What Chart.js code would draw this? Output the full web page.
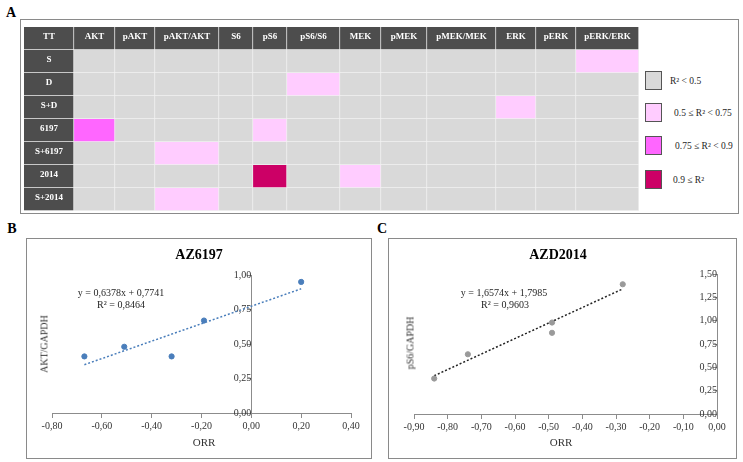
<!DOCTYPE html>
<html>
<head>
<meta charset="utf-8">
<script src="https://cdn.jsdelivr.net/npm/chart.js@4.4.0/dist/chart.umd.min.js"></script>
<style>
  body { margin: 0; background: #fff; }
  #fig { position: relative; width: 743px; height: 462px; overflow: hidden; font-family: "Liberation Serif", serif; color: #333; }
  canvas { position: absolute; }
  .frame { position: absolute; border: 1.5px solid #8a8a8a; box-sizing: border-box; }
  .letter { position: absolute; font-weight: bold; font-size: 14px; color: #000; transform: translate(-50%, -50%); }
  .txt { position: absolute; transform: translate(-50%, -50%); white-space: nowrap; }
  .title { font-weight: bold; font-size: 14px; color: #000; }
  .eq { font-size: 10px; color: #262626; }
  .ytitle { font-size: 10px; color: #333; transform: translate(-50%, -50%) rotate(-90deg); }
  .lg-box { position: absolute; width: 17px; height: 19px; border: 1px solid #555; box-sizing: border-box; }
  .lg-lab { position: absolute; font-size: 9.5px; color: #262626; transform: translateY(-50%); white-space: nowrap; }
</style>
</head>
<body>
<div id="fig">
  <div class="frame" style="left:20px;top:19px;width:719px;height:195px;"></div>
  <div class="frame" style="left:26px;top:238px;width:346px;height:221px;"></div>
  <div class="frame" style="left:388px;top:238px;width:349px;height:221px;"></div>

  <div class="letter" style="left:11px;top:13px;">A</div>
  <div class="letter" style="left:12px;top:229px;">B</div>
  <div class="letter" style="left:382px;top:229px;">C</div>

  <canvas id="heat" width="615" height="184" style="left:24px;top:27px;"></canvas>
  <div id="legend"></div>

  <canvas id="chartB" width="344" height="219" style="left:27px;top:239px;"></canvas>
  <div class="txt title" style="left:199px;top:255px;">AZ6197</div>
  <div class="txt eq" style="left:121px;top:292px;">y = 0,6378x + 0,7741</div>
  <div class="txt eq" style="left:121px;top:304px;">R² = 0,8464</div>
  <div class="txt ytitle" style="left:44px;top:344px;">AKT/GAPDH</div>
  <div class="txt" style="left:204px;top:442px;font-size:11px;">ORR</div>

  <canvas id="chartC" width="347" height="219" style="left:389px;top:239px;"></canvas>
  <div class="txt title" style="left:558px;top:255px;">AZD2014</div>
  <div class="txt eq" style="left:504px;top:292px;">y = 1,6574x + 1,7985</div>
  <div class="txt eq" style="left:505px;top:304px;">R² = 0,9603</div>
  <div class="txt ytitle" style="left:410px;top:343px;">pS6/GAPDH</div>
  <div class="txt" style="left:561px;top:442px;font-size:11px;">ORR</div>
</div>

<script>
// ---- panel A data ----
const rowLabels = ['S', 'D', 'S+D', '6197', 'S+6197', '2014', 'S+2014'];
const colLabels = ['AKT', 'pAKT', 'pAKT/AKT', 'S6', 'pS6', 'pS6/S6', 'MEK', 'pMEK', 'pMEK/MEK', 'ERK', 'pERK', 'pERK/ERK'];
// R² class per cell: 0 = R² < 0.5, 1 = 0.5-0.75, 2 = 0.75-0.9, 3 = >= 0.9
const r2Class = [
  [0, 0, 0, 0, 0, 0, 0, 0, 0, 0, 0, 1], // S
  [0, 0, 0, 0, 0, 1, 0, 0, 0, 0, 0, 0], // D
  [0, 0, 0, 0, 0, 0, 0, 0, 0, 1, 0, 0], // S+D
  [2, 0, 0, 0, 1, 0, 0, 0, 0, 0, 0, 0], // 6197
  [0, 0, 1, 0, 0, 0, 0, 0, 0, 0, 0, 0], // S+6197
  [0, 0, 0, 0, 3, 0, 1, 0, 0, 0, 0, 0], // 2014
  [0, 0, 1, 0, 0, 0, 0, 0, 0, 0, 0, 0]  // S+2014
];
const classLabels = ['R² < 0.5', '0.5 ≤ R² < 0.75', '0.75 ≤ R² < 0.9', '0.9 ≤ R²'];

// ---- panel B data (AZ6197) ----
const orrB = [-0.67, -0.51, -0.32, -0.19, 0.20];
const aktB = [0.41, 0.48, 0.41, 0.67, 0.95];
const trendBx = [-0.67, 0.20];
const trendBy = [0.35, 0.90];

// ---- panel C data (AZD2014) ----
const orrC = [-0.84, -0.74, -0.49, -0.49, -0.28];
const ps6C = [0.38, 0.64, 0.98, 0.87, 1.39];
const trendCx = [-0.84, -0.28];
const trendCy = [0.41, 1.34];

// ---- styles / layout ----
const classColors = ['#d9d9d9', '#ffccff', '#ff66ff', '#cc0066'];
const headerColor = '#4d4d4d';
const colWidths = [50, 41, 40, 64, 34, 34, 53, 41, 46, 69, 40, 40, 63]; // TT column first
const serif = 'Liberation Serif';

// heatmap as floating horizontal bars
const heatCols = ['TT', ...colLabels];
const heatRows = ['TT', ...rowLabels];
const starts = [];
const ends = [];
let acc = 0;
colWidths.forEach(w => { starts.push(acc); acc += w; ends.push(acc); });

const heatDatasets = heatCols.map((col, c) => ({
  label: col,
  data: heatRows.map(() => [starts[c], ends[c]]),
  backgroundColor: heatRows.map((row, r) =>
    (r === 0 || c === 0) ? headerColor : classColors[r2Class[r - 1][c - 1]]),
  borderColor: '#f2f2f2',
  borderWidth: { top: 0, left: 0, right: 1, bottom: 1 },
  borderSkipped: false,
  grouped: false,
  barPercentage: 1,
  categoryPercentage: 1
}));

const cellText = {
  id: 'cellText',
  afterDatasetsDraw(chart) {
    const { ctx, scales: { x, y } } = chart;
    ctx.save();
    ctx.fillStyle = '#fff';
    ctx.font = 'bold 9px "' + serif + '"';
    ctx.textAlign = 'center';
    ctx.textBaseline = 'middle';
    heatCols.forEach((lab, c) => {
      ctx.fillText(lab, x.getPixelForValue((starts[c] + ends[c]) / 2), y.getPixelForValue(0) - 2);
    });
    rowLabels.forEach((lab, r) => {
      ctx.fillText(lab, x.getPixelForValue((starts[0] + ends[0]) / 2), y.getPixelForValue(r + 1) - 2);
    });
    ctx.restore();
  }
};

new Chart(document.getElementById('heat'), {
  type: 'bar',
  data: { labels: heatRows, datasets: heatDatasets },
  options: {
    indexAxis: 'y',
    responsive: false,
    animation: false,
    layout: { padding: 0 },
    plugins: { legend: { display: false }, tooltip: { enabled: false } },
    scales: {
      x: { type: 'linear', min: 0, max: acc, display: false },
      y: { type: 'category', display: false }
    }
  },
  plugins: [cellText]
});

// legend for panel A
const legendTops = [71, 103, 136, 170];
const legendLabX = [670, 674, 675, 673];
const legend = document.getElementById('legend');
classLabels.forEach((lab, i) => {
  const box = document.createElement('div');
  box.className = 'lg-box';
  box.style.left = '645px';
  box.style.top = legendTops[i] + 'px';
  box.style.background = classColors[i];
  legend.appendChild(box);
  const t = document.createElement('div');
  t.className = 'lg-lab';
  t.style.left = legendLabX[i] + 'px';
  t.style.top = (legendTops[i] + 9.5) + 'px';
  t.textContent = lab;
  legend.appendChild(t);
});

// scatter panels
const fmt = v => (Math.abs(v) < 1e-9 ? 0 : v).toFixed(2).replace('.', ',');
const tickFont = { family: serif, size: 10 };

function axis(pos, min, max, step) {
  return {
    type: 'linear',
    position: pos,
    min: min,
    max: max,
    ticks: { stepSize: step, padding: 3, font: tickFont, color: '#333', callback: fmt, maxRotation: 0, autoSkip: false },
    grid: { display: true, drawOnChartArea: false, drawTicks: true, tickLength: 4, color: '#8c8c8c' },
    border: { display: true, color: '#8c8c8c', width: 1 }
  };
}

function scatter(id, xs, ys, tx, ty, pointColor, lineColor, xMin, xMax, xStep, yMax, pad) {
  new Chart(document.getElementById(id), {
    type: 'scatter',
    data: {
      datasets: [
        {
          data: xs.map((v, i) => ({ x: v, y: ys[i] })),
          backgroundColor: pointColor,
          borderColor: pointColor,
          pointRadius: 2.6,
          clip: false
        },
        {
          data: tx.map((v, i) => ({ x: v, y: ty[i] })),
          showLine: true,
          borderColor: lineColor,
          borderWidth: 1.5,
          borderDash: [2, 2],
          pointRadius: 0,
          fill: false
        }
      ]
    },
    options: {
      responsive: false,
      animation: false,
      layout: { padding: pad },
      plugins: { legend: { display: false }, tooltip: { enabled: false } },
      scales: {
        x: axis({ y: 0 }, xMin, xMax, xStep),
        y: axis({ x: 0 }, 0, yMax, 0.25)
      }
    }
  });
}

scatter('chartB', orrB, aktB, trendBx, trendBy, '#4a7ebb', '#4a7ebb', -0.8, 0.4, 0.2, 1.0,
  { left: 25, right: 20, top: 36, bottom: 45 });
scatter('chartC', orrC, ps6C, trendCx, trendCy, '#9a9a9a', '#222222', -0.9, 0.0, 0.1, 1.5,
  { left: 25, right: 19, top: 35, bottom: 44 });
</script>
</body>
</html>
